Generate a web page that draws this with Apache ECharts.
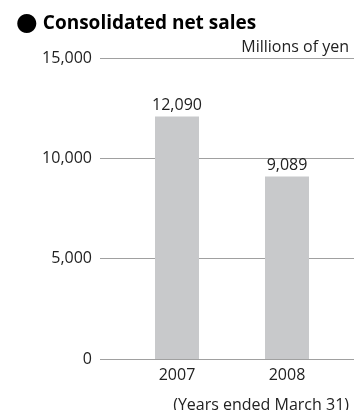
<!DOCTYPE html>
<html><head><meta charset="utf-8">
<script src="https://cdn.jsdelivr.net/npm/echarts@6/dist/echarts.min.js"></script>
<style>html,body{margin:0;padding:0;background:#fff}#c{width:363px;height:410px}</style>
</head><body><div id="c"></div>
<script>
const categories = ['2007', '2008'];
const netSales = [12090, 9089];
const yTicks = [0, 5000, 10000, 15000];

const font = '"Open Sans", "Noto Sans", sans-serif';
const chart = echarts.init(document.getElementById('c'), null, {renderer: 'canvas'});
const fmt = v => v.toLocaleString('en-US');
chart.setOption({
  animation: false,
  title: [
    {text: '{c|●}{t|Consolidated net sales}', left: 11, top: 6,
     textStyle: {rich: {
       c: {fontFamily: '"DejaVu Sans"', fontSize: 25, color: '#000', padding: [0, 5, 0, 0]},
       t: {fontFamily: font, fontSize: 19, fontWeight: 'bold', color: '#000'}
     }}},
    {text: 'Millions of yen', right: 9, top: 34,
     textStyle: {fontFamily: font, fontSize: 16, fontWeight: 'normal', color: '#222'}},
    {text: '(Years ended March 31)', right: 9, top: 392,
     textStyle: {fontFamily: font, fontSize: 16, fontWeight: 'normal', color: '#222'}}
  ],
  grid: [
    {left: 100, right: 9, top: 58, bottom: 51},
    {left: 122, right: 21, top: 58, bottom: 51}
  ],
  xAxis: [
    {gridIndex: 0, type: 'category', data: categories, show: false},
    {gridIndex: 1, type: 'category', data: categories,
     axisLine: {show: false}, axisTick: {show: false},
     axisLabel: {fontFamily: font, fontSize: 16, color: '#222', margin: 8}}
  ],
  yAxis: [
    {gridIndex: 0, type: 'value', min: yTicks[0], max: yTicks[yTicks.length - 1], interval: 5000,
     axisLine: {show: false}, axisTick: {show: false},
     axisLabel: {fontFamily: font, fontSize: 16, color: '#222', margin: 8, formatter: fmt},
     splitLine: {lineStyle: {color: '#a0a0a0', width: 1}}},
    {gridIndex: 1, type: 'value', min: yTicks[0], max: yTicks[yTicks.length - 1], interval: 5000, show: false,
     splitLine: {show: false}}
  ],
  series: [{
    type: 'bar', xAxisIndex: 1, yAxisIndex: 1, data: netSales, barWidth: 44,
    itemStyle: {color: '#c8c9cb'},
    label: {show: true, position: 'top', distance: 3, fontFamily: font, fontSize: 16, color: '#222',
            formatter: p => fmt(p.value)}
  }]
});
</script></body></html>
